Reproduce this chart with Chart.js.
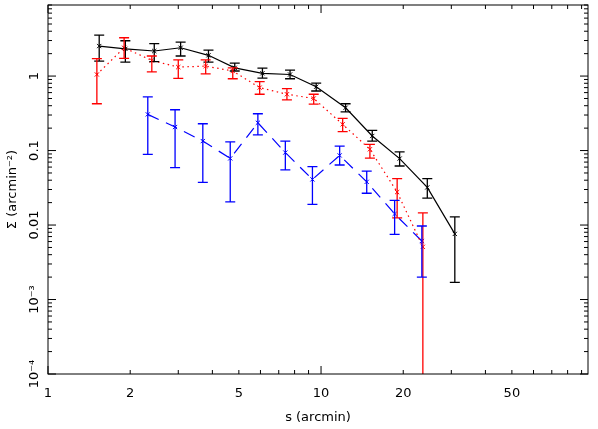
<!DOCTYPE html><html><head><meta charset="utf-8">
<script src="https://cdn.jsdelivr.net/npm/chart.js@4"></script>
<style>html,body{margin:0;padding:0;background:#fff}#w{width:598px;height:429px}</style></head><body><div id="w"><canvas id="c"></canvas></div>
<script>
const blackX=[1.54,1.92,2.45,3.06,3.87,4.83,6.1,7.7,9.6,12.3,15.4,19.4,24.5,30.9];
const blackY=[2.53,2.32,2.17,2.4,1.9,1.29,1.09,1.05,0.72,0.376,0.157,0.078,0.032,0.0076];
const blackHi=[3.55,2.98,2.72,2.86,2.23,1.49,1.28,1.2,0.805,0.425,0.187,0.096,0.042,0.0129];
const blackLo=[1.59,1.54,1.56,1.86,1.54,1.17,0.94,0.92,0.63,0.33,0.134,0.062,0.023,0.0017];
const redX=[1.51,1.9,2.4,3.0,3.78,4.75,5.96,7.5,9.4,12.0,15.1,19.0,23.6];
const redY=[1.05,2.4,1.62,1.32,1.36,1.17,0.70,0.57,0.50,0.225,0.104,0.0277,0.0051];
const redHi=[1.71,3.27,1.86,1.65,1.65,1.29,0.84,0.68,0.57,0.27,0.121,0.042,0.0146];
const redLo=[0.425,1.73,1.14,0.93,1.07,0.92,0.57,0.48,0.42,0.18,0.079,0.0125,0.00001];
const blueX=[2.32,2.92,3.69,4.65,5.87,7.4,9.3,11.7,14.7,18.6,23.4];
const blueY=[0.306,0.207,0.134,0.0785,0.236,0.094,0.041,0.086,0.038,0.0141,0.0061];
const blueHi=[0.527,0.353,0.229,0.131,0.312,0.134,0.061,0.115,0.053,0.0214,0.0097];
const blueLo=[0.089,0.059,0.0375,0.0205,0.162,0.055,0.0189,0.064,0.0267,0.0075,0.002];
const xTicks=[1,2,5,10,20,50];
const yTicks=[1e-4,1e-3,0.01,0.1,1];
const yLabels=["10⁻⁴","10⁻³","0.01","0.1","1"];
const yTitle='Σ (arcmin⁻²)';
const pts=(xs,ys)=>xs.map((x,i)=>({x,y:ys[i]}));
const series=[[blackX,blackY,blackHi,blackLo,'#000'],[redX,redY,redHi,redLo,'#f00'],[blueX,blueY,blueHi,blueLo,'#00f']];
const errPlugin={id:'err',afterDatasetsDraw(ch){const {ctx,scales:{x,y},chartArea:a}=ch;
 ctx.save();ctx.beginPath();ctx.rect(a.left,a.top,a.right-a.left,a.bottom-a.top);ctx.clip();
 series.forEach(([xs,ys,hi,lo,c])=>{ctx.strokeStyle=c;ctx.lineWidth=1.3;
  xs.forEach((xv,i)=>{const px=x.getPixelForValue(xv),ph=y.getPixelForValue(hi[i]),pl=y.getPixelForValue(lo[i]);
   ctx.beginPath();ctx.moveTo(px,ph);ctx.lineTo(px,pl);ctx.moveTo(px-5,ph);ctx.lineTo(px+5,ph);ctx.moveTo(px-5,pl);ctx.lineTo(px+5,pl);ctx.stroke();});});
 ctx.restore();
 ctx.save();ctx.strokeStyle='#000';ctx.lineWidth=1;ctx.strokeRect(a.left,a.top,a.right-a.left,a.bottom-a.top);
 ctx.beginPath();
 for(let d=1;d<=100;d*=10)for(let m=1;m<10;m++){const v=d*m;if(v<x.min||v>x.max)continue;const p=x.getPixelForValue(v);const L=m===1?8:4;
  ctx.moveTo(p,a.bottom);ctx.lineTo(p,a.bottom-L);ctx.moveTo(p,a.top);ctx.lineTo(p,a.top+L);}
 for(let d=1e-4;d<=10;d*=10)for(let m=1;m<10;m++){const v=d*m;if(v<y.min*0.999||v>y.max)continue;const p=y.getPixelForValue(v);const L=m===1?8:4;
  ctx.moveTo(a.left,p);ctx.lineTo(a.left+L,p);ctx.moveTo(a.right,p);ctx.lineTo(a.right-L,p);}
 ctx.stroke();
 // rotated y labels and title
 ctx.fillStyle='#000';ctx.font='13px "DejaVu Sans"';ctx.textAlign='center';ctx.textBaseline='middle';
 yTicks.forEach((v,i)=>{const p=y.getPixelForValue(v);ctx.save();ctx.translate(35,p);ctx.rotate(-Math.PI/2);ctx.fillText(yLabels[i],0,0);ctx.restore();});
 ctx.save();ctx.translate(13,(a.top+a.bottom)/2);ctx.rotate(-Math.PI/2);ctx.fillText(yTitle,0,0);ctx.restore();
 ctx.restore();}};
const ds=(xs,ys,c,dash)=>({data:pts(xs,ys),borderColor:c,backgroundColor:c,borderWidth:1.2,borderDash:dash,pointStyle:'crossRot',pointRadius:3,pointBorderWidth:1,tension:0});
new Chart(document.getElementById('c'),{type:'line',plugins:[errPlugin],
 data:{datasets:[ds(blackX,blackY,'#000',[]),ds(redX,redY,'#f00',[1.5,3.5]),ds(blueX,blueY,'#00f',[12,8])]},
 options:{responsive:true,maintainAspectRatio:false,animation:false,layout:{padding:{top:5,right:10,left:0,bottom:0}},
  plugins:{legend:{display:false},tooltip:{enabled:false}},
  scales:{
   x:{type:'logarithmic',min:1,max:95,grid:{display:false},border:{display:false},
    afterBuildTicks:s=>{s.ticks=xTicks.map(v=>({value:v}));},
    afterFit:s=>{s.height=55;},
    ticks:{color:'#000',font:{family:'DejaVu Sans',size:13},padding:4,autoSkip:false,maxRotation:0,callback:v=>String(v)},
    title:{display:true,text:'s (arcmin)',color:'#000',font:{family:'DejaVu Sans',size:13},padding:{top:6}}},
   y:{type:'logarithmic',min:1e-4,max:9,grid:{display:false},border:{display:false},
    afterBuildTicks:s=>{s.ticks=yTicks.map(v=>({value:v}));},
    afterFit:s=>{s.width=48;},
    ticks:{display:false},title:{display:false}}}}});
</script></body></html>
